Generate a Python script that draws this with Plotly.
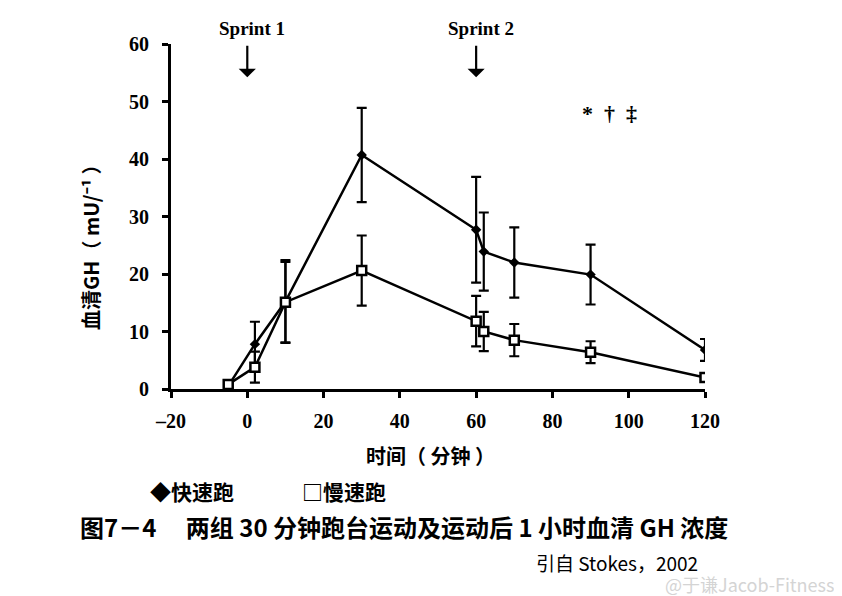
import plotly.graph_objects as go

# ---- data ----
time_min = [-5, 2, 10, 30, 60, 62, 70, 90, 120]
fast_gh = [0.5, 7.8, 15.2, 40.7, 27.7, 23.9, 22.0, 19.9, 6.8]
fast_err = [0.3, 3.9, 7.2, 8.2, 9.2, 6.8, 6.1, 5.2, 1.9]
slow_gh = [0.8, 3.8, 15.1, 20.6, 11.8, 10.0, 8.5, 6.4, 2.0]
slow_err = [0.3, 2.7, 7.0, 6.1, 4.4, 3.4, 2.8, 1.9, 0.4]

x_ticks = [-20, 0, 20, 40, 60, 80, 100, 120]
x_tick_text = ["–20", "0", "20", "40", "60", "80", "100", "120"]
y_ticks = [0, 10, 20, 30, 40, 50, 60]

sprint_times = [0, 60]
sprint_labels = ["Sprint 1", "Sprint 2"]

series_names = ["快速跑", "慢速跑"]
caption = "图7－4　 两组 30 分钟跑台运动及运动后 1 小时血清 GH 浓度"
source = "引自 Stokes，2002"

# page has an 8px body margin: figure drawn 8px in from the top-left corner
OFF = 8
W, H = 842 - OFF, 596 - OFF
# plot area in page pixels: x 171..705, y 44..389
PL, PR, PT, PB = 171, 705, 44, 389
L, T = PL - OFF, PT - OFF
R, B = W - (PR - OFF), H - (PB - OFF)
PW, PH = PR - PL, PB - PT


def px(xp, yp):
    """page pixel -> paper coordinates"""
    return (xp - PL) / PW, (PB - yp) / PH


fig = go.Figure()

fig.add_trace(go.Scatter(
    x=time_min, y=fast_gh, mode="lines+markers", name=series_names[0],
    line=dict(color="black", width=2.5),
    marker=dict(symbol="diamond", size=8, color="black"),
    error_y=dict(type="data", array=fast_err, color="black", thickness=2.2, width=5),
    showlegend=False,
))
fig.add_trace(go.Scatter(
    x=time_min, y=slow_gh, mode="lines+markers", name=series_names[1],
    line=dict(color="black", width=2.5),
    marker=dict(symbol="square", size=9, color="white", line=dict(color="black", width=2.5)),
    error_y=dict(type="data", array=slow_err, color="black", thickness=2.2, width=5),
    showlegend=False,
))

serif_bold = dict(family="Liberation Serif", size=20, color="black", weight="bold")


def cjk(size, bold=True, color="black"):
    return dict(family="Noto Sans CJK SC", size=size, color=color, weight="bold" if bold else "normal")


fig.update_xaxes(
    range=[-20, 120], tickvals=x_ticks, ticktext=x_tick_text,
    showline=True, linecolor="black", linewidth=3, ticks="outside", ticklen=6,
    tickwidth=2.5, tickcolor="black", showgrid=False, zeroline=False,
    tickfont=serif_bold, ticklabelstandoff=6,
)
fig.update_yaxes(
    range=[0, 60], tickvals=y_ticks,
    showline=True, linecolor="black", linewidth=3, ticks="outside", ticklen=6,
    tickwidth=2.5, tickcolor="black", showgrid=False, zeroline=False,
    tickfont=serif_bold, ticklabelstandoff=9,
)

ann = []
# sprint arrows and labels
for t, lab in zip(sprint_times, sprint_labels):
    ann.append(dict(x=t, y=54.2, xref="x", yref="y", ax=0, ay=-33, text="",
                    showarrow=True, arrowhead=1, arrowsize=1.3, arrowwidth=2.2, arrowcolor="black"))
    ann.append(dict(x=t + 1.3, y=1.0, xref="x", yref="paper", yshift=3, text=lab, showarrow=False,
                    font=dict(family="Liberation Serif", size=19, color="black", weight="bold"),
                    xanchor="center", yanchor="bottom"))
# significance symbols
ann.append(dict(x=95, y=48.0, xref="x", yref="y", text="*  †  ‡", showarrow=False,
                xanchor="center", yanchor="middle",
                font=dict(family="Liberation Serif", size=22, color="black", weight="bold")))
# y title
xp, yp = px(90, 242)
ann.append(dict(x=xp, y=yp, xref="paper", yref="paper", text="血清GH（ mU/⁻¹ ）", textangle=-90,
                xanchor="center", yanchor="middle", showarrow=False, font=cjk(20)))
# x title
xp, yp = px(430, 455)
ann.append(dict(x=xp, y=yp, xref="paper", yref="paper", text="时间（ 分钟 ）", showarrow=False,
                xanchor="center", yanchor="middle", font=cjk(20)))
# legend
xp, yp = px(148, 491)
ann.append(dict(x=xp, y=yp, xref="paper", yref="paper", text="◆" + series_names[0], showarrow=False,
                xanchor="left", yanchor="middle", font=cjk(21)))
xp, yp = px(300, 491)
ann.append(dict(x=xp, y=yp, xref="paper", yref="paper", text="□" + series_names[1], showarrow=False,
                xanchor="left", yanchor="middle", font=cjk(21)))
# caption
xp, yp = px(78, 526)
ann.append(dict(x=xp, y=yp, xref="paper", yref="paper", text=caption, showarrow=False,
                xanchor="left", yanchor="middle", font=cjk(24)))
xp, yp = px(700, 562)
ann.append(dict(x=xp, y=yp, xref="paper", yref="paper", text=source, showarrow=False,
                xanchor="right", yanchor="middle", font=cjk(19, bold=False)))
xp, yp = px(836, 584)
ann.append(dict(x=xp, y=yp, xref="paper", yref="paper", text="@于谦Jacob-Fitness", showarrow=False,
                xanchor="right", yanchor="middle", font=cjk(18, bold=False, color="#d4d4d4")))

fig.update_layout(
    width=W, height=H, autosize=False,
    margin=dict(l=L, r=R, t=T, b=B),
    paper_bgcolor="white", plot_bgcolor="white",
    annotations=ann, showlegend=False,
)

fig.write_html("out.html")
